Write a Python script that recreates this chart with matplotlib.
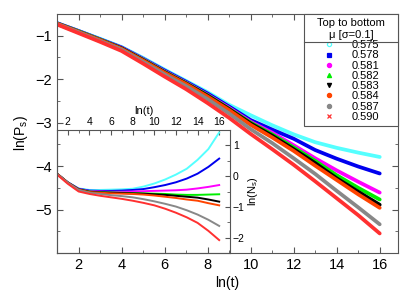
import matplotlib
matplotlib.use('Agg')
import matplotlib.pyplot as plt
from matplotlib.lines import Line2D
from matplotlib.ticker import MultipleLocator

plt.rcParams['font.family'] = ['Liberation Sans', 'DejaVu Sans']
plt.rcParams['mathtext.fontset'] = 'custom'
plt.rcParams['mathtext.rm'] = 'Liberation Sans'
plt.rcParams['mathtext.it'] = 'Liberation Sans'

# ---------------------------------------------------------------------------------------------------------------------
# data
lnt = [1, 2, 3, 4, 5, 6, 7, 8, 9, 10, 11, 12, 13, 14, 15, 16]
mu_labels = ['0.575', '0.578', '0.581', '0.582', '0.583', '0.584', '0.587', '0.590']

# main panel, ln(P_s)
ps_575 = [-0.71, -0.89, -1.07, -1.26, -1.51, -1.78, -2.04, -2.30, -2.59, -2.83, -3.06, -3.27, -3.45, -3.58, -3.69, -3.79]
ps_578 = [-0.71, -0.89, -1.08, -1.27, -1.53, -1.80, -2.06, -2.33, -2.63, -2.94, -3.16, -3.37, -3.63, -3.83, -4.01, -4.17]
ps_581 = [-0.72, -0.90, -1.09, -1.28, -1.54, -1.82, -2.08, -2.36, -2.66, -2.98, -3.23, -3.52, -3.82, -4.10, -4.36, -4.61]
ps_582 = [-0.72, -0.90, -1.09, -1.29, -1.55, -1.83, -2.09, -2.37, -2.68, -3.00, -3.27, -3.57, -3.88, -4.21, -4.50, -4.77]
ps_583 = [-0.72, -0.91, -1.10, -1.29, -1.56, -1.84, -2.10, -2.38, -2.69, -3.02, -3.30, -3.61, -3.93, -4.28, -4.59, -4.89]
ps_584 = [-0.72, -0.91, -1.10, -1.30, -1.57, -1.85, -2.11, -2.40, -2.71, -3.05, -3.34, -3.65, -3.99, -4.32, -4.65, -4.96]
ps_587 = [-0.73, -0.92, -1.12, -1.32, -1.60, -1.89, -2.16, -2.46, -2.79, -3.15, -3.47, -3.82, -4.18, -4.57, -4.95, -5.34]
ps_590 = [-0.74, -0.94, -1.14, -1.35, -1.64, -1.94, -2.23, -2.55, -2.89, -3.26, -3.61, -3.97, -4.35, -4.74, -5.13, -5.55]

# inset, ln(N_s)
ns_575 = [0.08, -0.20, -0.40, -0.45, -0.45, -0.44, -0.43, -0.41, -0.34, -0.24, -0.11, 0.05, 0.24, 0.53, 0.88, 1.42]
ns_578 = [0.08, -0.20, -0.41, -0.47, -0.48, -0.48, -0.47, -0.45, -0.42, -0.36, -0.29, -0.20, -0.08, 0.08, 0.30, 0.57]
ns_581 = [0.08, -0.21, -0.42, -0.49, -0.50, -0.51, -0.51, -0.50, -0.49, -0.48, -0.47, -0.46, -0.44, -0.40, -0.35, -0.29]
ns_582 = [0.08, -0.21, -0.43, -0.50, -0.52, -0.53, -0.54, -0.55, -0.56, -0.57, -0.58, -0.60, -0.61, -0.61, -0.60, -0.59]
ns_583 = [0.08, -0.21, -0.43, -0.51, -0.53, -0.54, -0.55, -0.56, -0.57, -0.59, -0.61, -0.64, -0.67, -0.70, -0.76, -0.83]
ns_584 = [0.08, -0.21, -0.44, -0.52, -0.54, -0.56, -0.57, -0.58, -0.60, -0.63, -0.67, -0.71, -0.76, -0.80, -0.88, -0.95]
ns_587 = [0.07, -0.22, -0.45, -0.54, -0.58, -0.62, -0.65, -0.69, -0.75, -0.82, -0.90, -0.99, -1.11, -1.25, -1.42, -1.62]
ns_590 = [0.05, -0.25, -0.50, -0.58, -0.64, -0.69, -0.74, -0.80, -0.87, -0.95, -1.06, -1.19, -1.34, -1.52, -1.78, -2.08]

ps_all = [ps_575, ps_578, ps_581, ps_582, ps_583, ps_584, ps_587, ps_590]
ns_all = [ns_575, ns_578, ns_581, ns_582, ns_583, ns_584, ns_587, ns_590]

# styles (gnuplot-ish)
colors = ['#55ffff', '#0000ee', '#ff00ff', '#00ee00', '#000000', '#ff4400', '#888888', '#ff3030']
markers = ['o', 's', 'o', '^', 'v', 'o', 'o', 'x']
frame_col = '#555555'

# ---------------------------------------------------------------------------------------------------------------------
W, H = 415, 291
fig = plt.figure(figsize=(W / 100, H / 100), dpi=100)
ax = fig.add_axes([57 / W, 1 - 253 / H, (398 - 57) / W, (253 - 14) / H])
ins = fig.add_axes([57 / W, 1 - 253 / H, (230 - 57) / W, (253 - 130) / H])
ax.set_zorder(2)
ax.patch.set_visible(False)
ins.set_zorder(1)

for ys, c in zip(ps_all, colors):
    ax.plot(lnt, ys, color=c, lw=2.7, solid_capstyle='round')

ax.set_xlim(1, 16.85)
ax.set_ylim(-6, -0.5)
ax.set_xticks([2, 4, 6, 8, 10, 12, 14, 16])
ax.set_yticks([-5, -4, -3, -2, -1])
ax.xaxis.set_minor_locator(MultipleLocator(1))
ax.yaxis.set_minor_locator(MultipleLocator(0.5))
ax.tick_params(which='both', direction='in', top=True, right=True, color=frame_col, labelsize=10.5)
ax.tick_params(which='major', length=4)
ax.tick_params(which='minor', length=2.5)
ax.set_xlabel('ln(t)', fontsize=10, labelpad=3)
ax.set_ylabel(r'ln(P$_\mathrm{s}$)', fontsize=10, labelpad=4)
for s in ax.spines.values():
    s.set_color(frame_col)

# inset
for ys, c in zip(ns_all, colors):
    ins.plot(lnt, ys, color=c, lw=1.4)
ins.set_xlim(1, 17)
ins.set_ylim(-2.5, 1.5)
ins.set_xticks([2, 4, 6, 8, 10, 12, 14, 16])
ins.set_yticks([-2, -1, 0, 1])
ins.xaxis.set_minor_locator(MultipleLocator(1))
ins.yaxis.set_minor_locator(MultipleLocator(0.5))
ins.xaxis.tick_top()
ins.yaxis.tick_right()
ins.xaxis.set_label_position('top')
ins.yaxis.set_label_position('right')
ins.tick_params(which='both', direction='in', color=frame_col, labelsize=7.5, pad=2)
ins.tick_params(which='major', length=3.5)
ins.tick_params(which='minor', length=2)
ins.set_xlabel('ln(t)', fontsize=8, labelpad=2)
ins.set_ylabel(r'ln(N$_\mathrm{s}$)', fontsize=8, labelpad=1)
for s in ins.spines.values():
    s.set_color(frame_col)

# legend
handles = []
for c, m in zip(colors, markers):
    handles.append(Line2D([], [], ls='none', marker=m, color=c, ms=3,
                          mfc='none' if m == 'o' and c == colors[0] else c, mew=0.9))
leg_x0 = (304 - 57) / 341
leg_y0 = (253 - 129) / 239
leg = ax.legend(handles, mu_labels, loc='upper left', bbox_to_anchor=(leg_x0, leg_y0, 1 - leg_x0, 1 - leg_y0),
                mode='expand', borderaxespad=0,
                title='Top to bottom\n\u03bc [\u03c3=0.1]', fontsize=8, title_fontsize=8,
                fancybox=False, framealpha=1, edgecolor=frame_col, handlelength=3.7,
                handletextpad=0.2, labelspacing=0.02, borderpad=0.4)
leg.get_frame().set_linewidth(0.8)
leg.get_title().set_multialignment('center')

fig.canvas.draw()
tb = leg.get_title().get_window_extent()
fb = leg.get_frame().get_window_extent()
yline = tb.y0 - 1.5
fig.add_artist(Line2D([fb.x0, fb.x1], [yline, yline], transform=None, color=frame_col, lw=0.8, zorder=5))

fig.savefig('out.png', dpi=100)
